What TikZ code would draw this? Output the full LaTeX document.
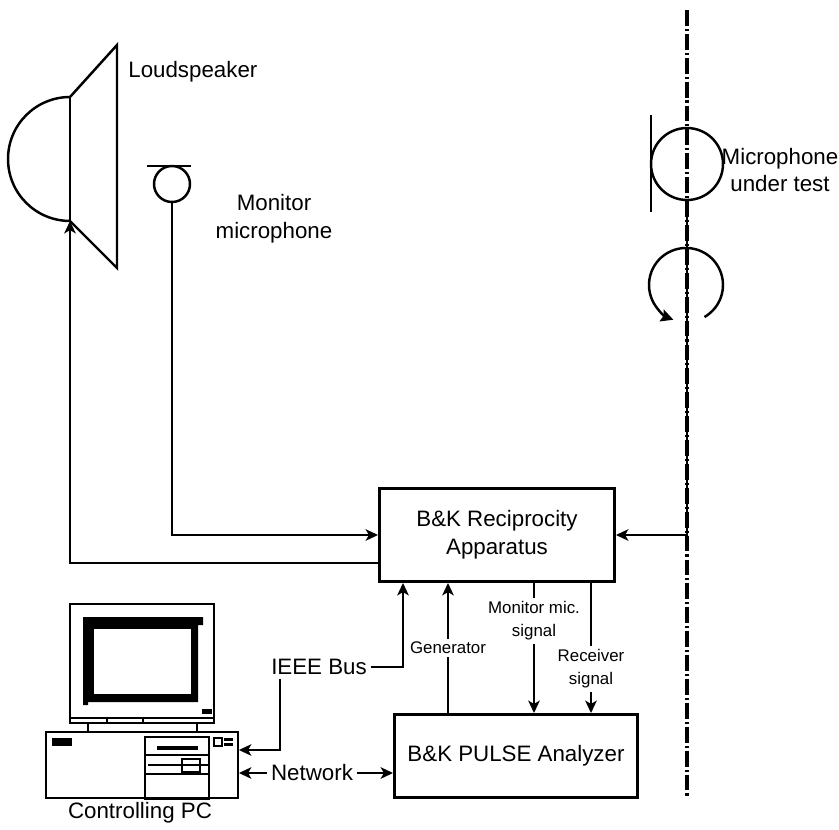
\documentclass[tikz,border=0pt]{standalone}
\usepackage{fontspec}
\setmainfont{Liberation Sans}
\usetikzlibrary{arrows.meta}

\newcommand{\bigtxt}{\fontsize{12.7}{15.9}\selectfont}
\newcommand{\smalltxt}{\fontsize{9.6}{13.2}\selectfont}

\tikzset{
  wire/.style={line width=1.4pt},
  sig/.style={wire,-{Stealth[length=7pt,width=6.5pt,inset=1.8pt]}},
  unit/.style={draw,line width=1.7pt,inner sep=0pt,align=center,font=\bigtxt},
  lbl/.style={inner sep=2pt,align=center,font=\bigtxt},
  sublbl/.style={fill=white,inner sep=2pt,align=center,font=\smalltxt},
  axis/.style={line width=2.2pt,dash pattern=on 9pt off 1.7pt on 1.2pt off 1.7pt},
}

\begin{document}
\begin{tikzpicture}[x=0.02cm,y=-0.02cm]
\useasboundingbox (0,0) rectangle (839,829);

% rotation axis and microphone under test
\draw[axis] (687,10) -- (687,798);
\node[draw,circle,wire,inner sep=0pt,minimum size=1.44cm] (mut) at (687,164) {};
\draw[line width=1.1pt] (651,115) -- (651,212);
\node[lbl] (mutlabel) at (780,170) {Microphone\\[-1pt]under test};
\draw[wire,-{Stealth[length=7pt,width=7pt,inset=1pt]}] (704.5,317) arc[start angle=-60,end angle=250,radius=0.74cm];

% loudspeaker
\draw[wire] (70,97) -- (117,45) -- (117,268) -- (70,221);
\draw[wire] (70,97) arc[start angle=90,end angle=270,radius=1.24cm];
\draw[wire] (70,97) coordinate (spktop) -- (70,221) coordinate (spk);
\node[lbl,anchor=west,inner sep=0pt] (spklabel) at (128,72) {Loudspeaker};

% monitor microphone
\node[draw,circle,wire,inner sep=0pt,minimum size=0.72cm] (mmic) at (172,184) {};
\draw[wire] (147,166) -- (191,166);
\node[lbl] (mmiclabel) at (274,219) {Monitor\\microphone};

% instruments
\node[unit,minimum width=4.70cm,minimum height=1.86cm] (recip) at (497,535) {B\&K Reciprocity\\Apparatus};
\node[unit,minimum width=4.86cm,minimum height=1.66cm] (pulse) at (516,756) {B\&K PULSE Analyzer};

\draw[sig] (mmic.south) |- (recip.west);
\draw[sig] (recip.west |- 0,563) -| (spk);
\draw[sig] (mut.south) |- (recip.east);

% controlling PC
\node[draw,line width=1.1pt,inner sep=0pt,minimum width=3.84cm,minimum height=1.32cm] (pc) at (142,765) {};
\begin{scope}[line width=1.1pt]
\draw (70,604) rectangle (214,718);
\draw (70,718) rectangle (214,723);
\draw (107,718) -- (107,723) (143,718) -- (143,723);
\draw (88,723) -- (88,731) (197,723) -- (197,731);
\fill (83,617) -- (203,617) -- (203,625) -- (198,625) -- (198,702) -- (88,702) -- (88,705) -- (83,705) -- cycle;
\fill[white] (94,629) rectangle (191,694);
\fill (202,709) rectangle (212,714);
\fill (52,738) rectangle (72,746);
\draw (145,737) rectangle (209,799);
\draw (145,755) -- (209,755) (145,774) -- (209,774) (148,765) -- (208,765);
\fill (157,746) rectangle (198,750);
\draw (182,759) rectangle (200,772);
\draw (214,738) rectangle (222,746);
\fill (224,738) rectangle (233,746);
\draw[white,line width=0.6pt] (224,742) -- (233,742);
\end{scope}
\node[lbl,inner sep=0pt] (pclabel) at (140,813) {Controlling PC};

% bus and network
\node[lbl] (ieee) at (319,667) {IEEE Bus};
\draw[sig] (ieee.east) -| (recip.south -| 403,0);
\draw[sig] (ieee.south -| 280,0) |- (pc.east |- 0,750);
\node[lbl] (net) at (312,773) {Network};
\draw[sig] (net.west) -- (pc.east |- net);
\draw[sig] (net.east) -- (pulse.west |- net);

% signal lines
\draw[sig] (pulse.north -| 448,0) -- node[sublbl] {Generator} (recip.south -| 448,0);
\draw[sig] (recip.south -| 534,0) -- node[sublbl,pos=0.29] {Monitor mic.\\signal} (pulse.north -| 534,0);
\draw[sig] (recip.south -| 591,0) -- node[sublbl,pos=0.66] {Receiver\\signal} (pulse.north -| 591,0);

\end{tikzpicture}
\end{document}
